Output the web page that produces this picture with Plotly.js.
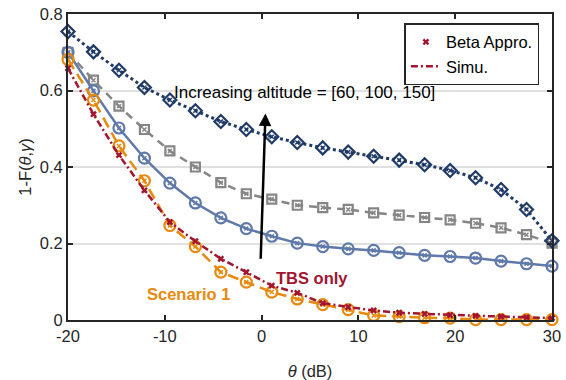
<!DOCTYPE html>
<html>
<head>
<meta charset="utf-8">
<script src="https://cdn.plot.ly/plotly-3.0.1.min.js"></script>
<style>html,body{margin:0;padding:0;background:#fff;}#chart{width:566px;height:380px;}</style>
</head>
<body>
<div id="chart"></div>
<script>
// theta (dB): 20 points from -20 to 30
const theta = [-20, -17.368, -14.737, -12.105, -9.474, -6.842, -4.211, -1.579, 1.053, 3.684,
               6.316, 8.947, 11.579, 14.211, 16.842, 19.474, 22.105, 24.737, 27.368, 30];
// altitude 150 (dark blue diamonds)
const alt150 = [0.754, 0.701, 0.653, 0.608, 0.575, 0.547, 0.519, 0.498, 0.479, 0.464,
                0.450, 0.439, 0.428, 0.418, 0.406, 0.391, 0.372, 0.341, 0.289, 0.207];
// altitude 100 (gray squares)
const alt100 = [0.700, 0.627, 0.559, 0.498, 0.442, 0.400, 0.359, 0.330, 0.316, 0.300,
                0.294, 0.289, 0.280, 0.274, 0.268, 0.262, 0.253, 0.241, 0.223, 0.201];
// altitude 60 (blue circles)
const alt60 = [0.700, 0.599, 0.502, 0.423, 0.358, 0.306, 0.267, 0.239, 0.219, 0.201,
               0.192, 0.186, 0.182, 0.176, 0.169, 0.166, 0.162, 0.154, 0.147, 0.141];
// Scenario 1 (orange circles)
const scen1 = [0.681, 0.575, 0.455, 0.364, 0.247, 0.192, 0.125, 0.099, 0.073, 0.055,
               0.040, 0.027, 0.012, 0.009, 0.006, 0.005, 0.001, 0.001, 0.001, 0.001];
// TBS only (crimson)
const tbs = [0.658, 0.538, 0.431, 0.339, 0.256, 0.206, 0.160, 0.125, 0.090, 0.071,
             0.044, 0.034, 0.025, 0.019, 0.016, 0.013, 0.011, 0.009, 0.007, 0.005];

const xTicks = [-20, -10, 0, 10, 20, 30];
const yTicks = [0, 0.2, 0.4, 0.6, 0.8];

const NAVY = '#1f3a66', GRAY = '#858585', BLUE = '#5f79aa', ORANGE = '#e8890c', CRIMSON = '#a2142f';
const FONT = 'Liberation Sans, Arial, sans-serif';

function series(y, color, dash, width, symbol, msize) {
  return {x: theta, y: y, type: 'scatter', mode: 'lines+markers', showlegend: false,
    line: {color: color, dash: dash, width: width},
    marker: {symbol: symbol, size: msize, color: color, line: {color: color, width: 2.2}},
    cliponaxis: false, hoverinfo: 'skip'};
}
function approx(y, color) {
  return {x: theta, y: y, type: 'scatter', mode: 'markers', showlegend: false,
    marker: {symbol: 'x-thin', size: 4, line: {color: color, width: 1.5}},
    cliponaxis: false, hoverinfo: 'skip'};
}

const data = [
  series(alt100, GRAY, '8px,6px', 2.5, 'square-open', 9),
  approx(alt100, GRAY),
  series(alt60, BLUE, 'solid', 2.5, 'circle-open', 11),
  approx(alt60, BLUE),
  series(alt150, NAVY, 'dot', 3, 'diamond-open', 10),
  approx(alt150, NAVY),
  series(scen1, ORANGE, '11px,6px', 2.5, 'circle-open', 11),
  approx(scen1, ORANGE),
  {x: theta, y: tbs, type: 'scatter', mode: 'markers', name: 'Beta Appro.',
   marker: {symbol: 'x', size: 6, color: CRIMSON}, cliponaxis: false, hoverinfo: 'skip'},
  {x: theta, y: tbs, type: 'scatter', mode: 'lines', name: 'Simu.',
   line: {color: CRIMSON, dash: '7px,3px,2px,3px', width: 2.5}, hoverinfo: 'skip'}
];

const axisCommon = {
  showline: true, mirror: 'ticks', linecolor: '#262626', linewidth: 2,
  ticks: 'inside', ticklen: 5, tickwidth: 2, tickcolor: '#262626',
  zeroline: false, tickfont: {family: FONT, size: 16.5, color: '#262626'}
};

const layout = {
  width: 566, height: 380,
  margin: {l: 68, r: 14, t: 14, b: 60},
  paper_bgcolor: '#fff', plot_bgcolor: '#fff',
  font: {family: FONT, color: '#262626'},
  xaxis: Object.assign({}, axisCommon, {
    range: [-20, 30], tickvals: xTicks, ticktext: xTicks.map(String), showgrid: false,
    title: {text: '<i>θ</i> (dB)', font: {size: 16.5, color: '#262626'}}
  }),
  yaxis: Object.assign({}, axisCommon, {
    range: [0, 0.8], tickvals: yTicks, ticktext: yTicks.map(String),
    showgrid: true, gridcolor: '#e0e0e0', gridwidth: 2,
    title: {text: '1-F(<i>θ</i>,<i>γ</i>)', font: {size: 16.5, color: '#262626'}, standoff: 4}
  }),
  legend: {x: 0.974, xanchor: 'right', y: 0.97, yanchor: 'top',
    bgcolor: '#fff', bordercolor: '#262626', borderwidth: 1.5,
    font: {size: 16.5, color: '#000'}, tracegroupgap: 0, itemwidth: 30},
  showlegend: true,
  annotations: [
    {x: 0.4, y: 0.54, ax: -0.1, ay: 0.156, axref: 'x', ayref: 'y', xref: 'x', yref: 'y',
     text: '', showarrow: true, arrowhead: 2, arrowsize: 1, arrowwidth: 2.5, arrowcolor: '#000'},
    {x: 4.4, y: 0.596, xref: 'x', yref: 'y', text: 'Increasing altitude = [60, 100, 150]',
     showarrow: false, font: {size: 17, color: '#000'}},
    {x: 5.2, y: 0.109, xref: 'x', yref: 'y', text: '<b>TBS only</b>',
     showarrow: false, font: {size: 16.5, color: CRIMSON}},
    {x: -7.6, y: 0.069, xref: 'x', yref: 'y', text: '<b>Scenario 1</b>',
     showarrow: false, font: {size: 16.5, color: ORANGE}}
  ]
};

Plotly.newPlot('chart', data, layout, {staticPlot: true, displayModeBar: false});
</script>
</body>
</html>
